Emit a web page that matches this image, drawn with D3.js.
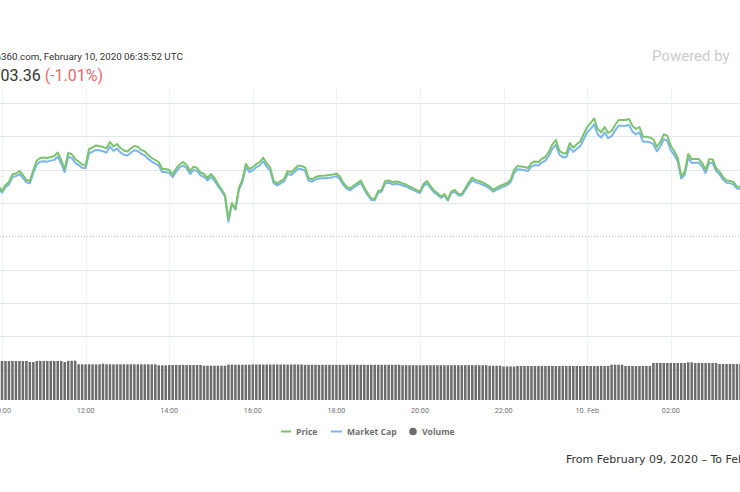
<!DOCTYPE html>
<html><head><meta charset="utf-8">
<script src="https://cdn.jsdelivr.net/npm/d3@7"></script>
<style>body{margin:0;background:#fff}svg{display:block}</style>
</head><body><svg id="c" width="740" height="492"></svg>
<script>
// ---- data ----
const startTime = Date.UTC(2020, 1, 9, 9, 55); // first visible point (UTC)
const stepMinutes = 5;
const price = [
10075.5,10068,10077,10081.5,10092.8,10094.3,10098,10092,10084.5,10083,
10099.5,10113.8,10117.5,10118.3,10117.5,10119,10120.5,10125.8,10114.5,10101,
10125,10123.5,10116,10112.3,10107.8,10107,10131,10133.3,10136.3,10135.5,
10134,10132,10141.5,10134.8,10138.5,10132.5,10128.8,10127.3,10132,10135.5,
10134.5,10129.5,10127.5,10122,10117.5,10114.5,10111.5,10101,10101,10099.5,
10093,10101.8,10108,10111.5,10107,10098,10104.5,10102.5,10095.8,10093.5,
10087.5,10093.5,10087.5,10078.5,10071,10062,10026,10050,10041,10072.5,
10084.5,10108.5,10101,10104,10108.5,10111.5,10118,10109.5,10103,10083,
10079.5,10083,10086,10098,10096,10101,10106.3,10105.5,10103.5,10087.5,
10085.5,10089,10090.5,10091,10091.3,10092,10092.8,10094.3,10089.8,10080,
10074,10072,10076.3,10080,10083.8,10073.3,10064.5,10056.8,10056,10068,
10069.5,10083,10083.8,10081.5,10082.3,10081.5,10079.5,10077.8,10074.5,10072.5,
10069.5,10067.3,10078.5,10083,10075.5,10068.8,10065,10059.8,10063.5,10055.3,
10067.5,10069.5,10063.5,10063.5,10072,10081,10088,10084.5,10083,10080.8,
10077.8,10074.8,10069.5,10073,10075.5,10077.8,10080,10084.5,10099.5,10105.5,
10104.8,10104,10102.5,10110,10112.3,10111.5,10116.5,10119,10127,10138,
10144.5,10128.8,10124.5,10124.5,10140,10133,10138,10142.3,10153.5,10164,
10170,10176.8,10161,10156,10164,10155,10158,10167,10174.5,10174.5,
10174.5,10176,10165.5,10161,10164,10149.5,10149.5,10148.3,10145.5,10134,
10141.5,10153,10151,10135.5,10128,10117.5,10090.5,10096.5,10123.5,10115.5,
10116,10116,10110,10099.5,10115.5,10115.5,10102.5,10097,10089,10083.8,
10083,10081.5,10074.5,10074,10072.5];
const marketCap = [ // billions USD
183.47,183.34,183.50,183.58,183.79,183.82,183.88,183.77,183.64,183.61,
183.91,184.17,184.24,184.25,184.24,184.27,184.29,184.39,184.18,183.94,
184.38,184.35,184.21,184.14,184.06,184.05,184.48,184.53,184.58,184.57,
184.54,184.50,184.68,184.55,184.62,184.51,184.44,184.42,184.50,184.57,
184.55,184.46,184.42,184.32,184.24,184.18,184.13,183.94,183.94,183.91,
183.79,183.95,184.07,184.13,184.05,183.88,184.00,183.97,183.84,183.80,
183.69,183.80,183.69,183.53,183.39,183.23,182.50,183.01,182.85,183.42,
183.64,184.08,183.94,183.99,184.08,184.13,184.25,184.09,183.98,183.61,
183.55,183.61,183.67,183.88,183.85,183.94,184.04,184.02,183.98,183.69,
183.66,183.72,183.75,183.76,183.76,183.77,183.79,183.82,183.73,183.56,
183.45,183.41,183.49,183.56,183.63,183.43,183.27,183.13,183.12,183.34,
183.37,183.61,183.63,183.58,183.60,183.58,183.55,183.52,183.46,183.42,
183.37,183.33,183.53,183.61,183.47,183.35,183.28,183.19,183.26,183.11,
183.33,183.37,183.26,183.26,183.41,183.57,183.70,183.64,183.61,183.57,
183.52,183.46,183.37,183.43,183.47,183.52,183.56,183.64,183.91,184.02,
184.01,183.99,183.97,184.10,184.14,184.13,184.22,184.27,184.41,184.61,
184.73,184.44,184.37,184.37,184.65,184.52,184.61,184.69,184.89,185.09,
185.19,185.32,185.03,184.94,185.09,184.92,184.98,185.14,185.28,185.28,
185.28,185.30,185.11,185.03,185.09,184.82,184.82,184.80,184.75,184.54,
184.68,184.89,184.85,184.57,184.43,184.24,183.75,183.86,184.35,184.20,
184.21,184.21,184.10,183.91,184.20,184.20,183.97,183.87,183.72,183.63,
183.61,183.58,183.46,183.45,183.42];
const volume = [ // 24h volume, billions USD
39,39,39,39,39.1,39,39,39,39,38,
38,39,39,39.1,39,39,39,39,39,38,
39.2,39.2,39.3,35.7,35.7,35.6,35.7,35.7,35.6,35.7,
36.3,35.7,35.7,35.6,35.7,35.7,35.7,35.6,35.7,35.7,
35.7,35.6,35.7,35.7,35.6,35.7,34.7,34.7,34.7,35,
35,35,35,35.1,35,35,35,35,35,34.3,
34.3,34.3,34.3,34.3,34.3,34.3,35.3,35.3,35.3,35.3,
35.3,35.3,35.3,35.5,35.5,35.5,35.4,35.5,35.5,35.5,
35.5,35.5,35.5,35.4,35.5,35.5,35.5,35.5,35.2,35.2,
35.2,35.2,35.1,35.2,35.2,35.2,35.2,35.2,35.2,35.1,
35.2,35.2,35.2,35.2,35.2,35.2,35.1,35.2,35.2,35.2,
35.2,35.2,35.2,35.2,35.2,35.2,34.8,34.8,34.8,34.8,
34.8,34.7,34.8,34.8,34.8,34.8,34.8,34.8,34.7,34.8,
34.8,34.8,34.8,34.8,34.8,34.8,34.8,34.8,34.7,34.8,
34.8,34.3,34.3,34.3,34.3,33.5,33.5,33.5,33.5,34,
34,34,34,34,34,34,34,34,34,34,
34,34,34,34,34,34,34,34,34,34,
34,34,34,34,34,34,35.3,35.3,35.3,35.3,
34,34,34,34,34,34,34,34,37,37,
37,37,37,37,37,37,37,37,37.7,37.7,
37,37,37,37,37,37,37,36,36,36,
36,36,36,36,36];
const priceTicks = [9800, 9850, 9900, 9950, 10000, 10050, 10100, 10150, 10200];
const referencePrice = 10000;
const xTickTimes = [10,12,14,16,18,20,22,24,26].map(h => Date.UTC(2020,1,9,h));
const xTickLabels = ["10:00","12:00","14:00","16:00","18:00","20:00","22:00","10. Feb","02:00"];
const titleText = "Coin360.com, February 10, 2020 06:35:52 UTC";
const priceText = "$9,903.36";
const changeText = "(-1.01%)";
const rangeText = "From February 09, 2020 \u2013 To February 10, 2020";
const legendItems = ["Price", "Market Cap", "Volume"];

// ---- chart ----
const times = price.map((_, i) => new Date(startTime + i * stepMinutes * 60000));
const svg = d3.select("#c");
svg.append("rect").attr("width", 740).attr("height", 492).attr("fill", "#fff");

const x = d3.scaleUtc()
  .domain([Date.UTC(2020,1,9,10), Date.UTC(2020,1,10,2)])
  .range([2, 2 + 16 * 41.8]);
const y = d3.scaleLinear().domain([9800, 10200]).range([369.7, 103]);
const yM = d3.scaleLinear().domain([177.33, 185.94]).range([400, 103]);
const yV = d3.scaleLinear().domain([0, 40]).range([400, 360]);

// horizontal grid
svg.append("g").selectAll("line").data(priceTicks.filter(d => d !== referencePrice)).join("line")
  .attr("x1", 0).attr("x2", 740)
  .attr("y1", d => Math.round(y(d)) + 0.5).attr("y2", d => Math.round(y(d)) + 0.5)
  .attr("stroke", "#e3e7ed").attr("stroke-width", 1);
// vertical grid
svg.append("g").selectAll("line").data(xTickTimes).join("line")
  .attr("x1", d => Math.round(x(d)) + 0.5).attr("x2", d => Math.round(x(d)) + 0.5)
  .attr("y1", 88).attr("y2", 400)
  .attr("stroke", "#eef1f5").attr("stroke-width", 1);
// reference dotted line
svg.append("line")
  .attr("x1", 0).attr("x2", 740)
  .attr("y1", Math.round(y(referencePrice)) + 0.5).attr("y2", Math.round(y(referencePrice)) + 0.5)
  .attr("stroke", "#c8c8c8").attr("stroke-dasharray", "1,2");

// volume bars
const bw = 3.483 * 0.72;
svg.append("g").selectAll("rect").data(volume).join("rect")
  .attr("x", (d, i) => x(times[i]) - bw / 2)
  .attr("width", bw)
  .attr("y", d => yV(d))
  .attr("height", d => yV(0) - yV(d))
  .attr("fill", "#6c6c6c");

// lines
const lineP = d3.line().x((d, i) => x(times[i])).y(d => y(d));
const lineM = d3.line().x((d, i) => x(times[i])).y(d => yM(d));
svg.append("path").datum(marketCap).attr("d", lineM)
  .attr("fill", "none").attr("stroke", "#7cb5ec").attr("stroke-width", 2).attr("stroke-linejoin", "round");
svg.append("path").datum(price).attr("d", lineP)
  .attr("fill", "none").attr("stroke", "#7cc46c").attr("stroke-width", 2).attr("stroke-linejoin", "round");

// x axis labels
svg.append("g").selectAll("text").data(xTickTimes).join("text")
  .attr("x", d => x(d)).attr("y", 413)
  .attr("text-anchor", "middle")
  .attr("font-family", "Roboto").attr("font-size", 7.2).attr("fill", "#707070")
  .text((d, i) => xTickLabels[i]);

// title
const t1 = svg.append("text").attr("y", 60)
  .attr("font-family", "Roboto").attr("font-size", 9.8).attr("fill", "#333").text(titleText);
const pre1 = t1.node().getSubStringLength(0, 4);
t1.attr("x", 1 - pre1);

const t2 = svg.append("text").attr("y", 81)
  .attr("font-family", "Roboto").attr("font-size", 16).attr("fill", "#333");
t2.append("tspan").text(priceText);
t2.append("tspan").attr("fill", "#e8696b").text(" " + changeText);
const pre2 = t2.node().getSubStringLength(0, 4);
t2.attr("x", 0.5 - pre2);

svg.append("text").attr("x", 652).attr("y", 61)
  .attr("font-family", "Roboto").attr("font-size", 15).attr("fill", "#cccccc").text("Powered by");

// legend
const lg = svg.append("g").attr("font-family", "Open Sans").attr("font-weight", "bold")
  .attr("font-size", 8.6).attr("fill", "#707070");
lg.append("line").attr("x1", 281).attr("x2", 291).attr("y1", 431.5).attr("y2", 431.5)
  .attr("stroke", "#7cc46c").attr("stroke-width", 2);
lg.append("text").attr("x", 296).attr("y", 434.5).text(legendItems[0]);
lg.append("line").attr("x1", 331).attr("x2", 342).attr("y1", 431.5).attr("y2", 431.5)
  .attr("stroke", "#7cb5ec").attr("stroke-width", 2);
lg.append("text").attr("x", 347).attr("y", 434.5).text(legendItems[1]);
lg.append("circle").attr("cx", 413).attr("cy", 431.5).attr("r", 3.8).attr("fill", "#6c6c6c");
lg.append("text").attr("x", 422).attr("y", 434.5).text(legendItems[2]);

svg.append("text").attr("x", 566).attr("y", 462.5)
  .attr("font-family", "DejaVu Sans").attr("font-size", 11).attr("fill", "#333").text(rangeText);
</script></body></html>
